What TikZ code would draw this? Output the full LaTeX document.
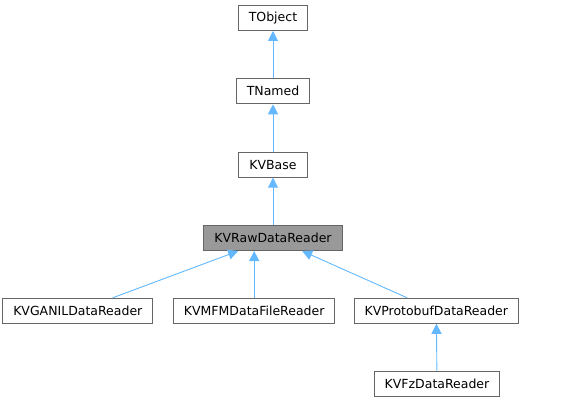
\documentclass[tikz,border=0pt]{standalone}
\usepackage{fontspec}
\setmainfont{DejaVu Sans}
\usetikzlibrary{arrows.meta,positioning}
\definecolor{edgeblue}{HTML}{63B8FF}
\definecolor{boxgray}{HTML}{666666}
\definecolor{curgray}{HTML}{999999}

\begin{document}
\begin{tikzpicture}[
    % styles
    x=1pt, y=-1pt,
    font=\fontsize{12.5}{15}\selectfont,
    cls/.style={draw=boxgray, fill=white, line width=1pt, minimum height=25pt, inner xsep=10.5pt, inner ysep=0pt},
    current cls/.style={cls, fill=curgray},
    inherit/.style={draw=edgeblue, line width=0.9pt, {Triangle[length=10pt,width=10pt,fill=edgeblue]}-}
]
    \useasboundingbox (0,0) rectangle (561,403);

    % --- base chain ---
    \foreach \name / \txt / \y in {TO/TObject/18, TN/TNamed/91.3, KB/KVBase/164.7}
        \node[cls] (\name) at (273,\y) {\txt};
    \node[current cls] (RDR) at (273,238) {KVRawDataReader};

    % --- derived readers ---
    \node[cls] (GAN) at (77.8,310.8) {KVGANILDataReader};
    \node[cls] (MFM) at (254.2,310.8) {KVMFMDataFileReader};
    \node[cls] (PB) at (436.3,310.8) {KVProtobufDataReader};
    \node[cls] (FZ) at (437,383.7) {KVFzDataReader};

    % --- edges ---
    \draw[inherit] (TO) -- (TN);
    \draw[inherit] (TN) -- (KB);
    \draw[inherit] (KB) -- (RDR);
    \draw[inherit] (RDR) -- (GAN);
    \draw[inherit] (RDR.south -| MFM.north) -- (MFM);
    \draw[inherit] (RDR) -- (PB);
    \draw[inherit] (PB) -- (FZ);

\end{tikzpicture}
\end{document}
